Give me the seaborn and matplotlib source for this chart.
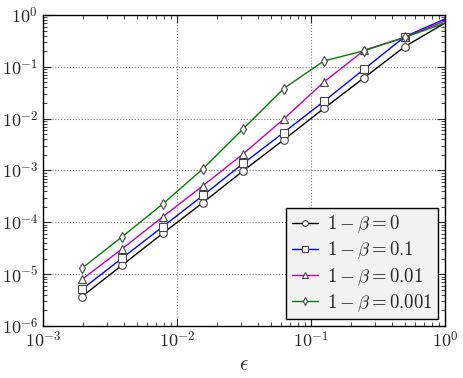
import numpy as np
import pandas as pd
import seaborn as sns
import matplotlib
matplotlib.use('Agg')
import matplotlib.pyplot as plt
from matplotlib.ticker import FuncFormatter

# step sizes eps = 2^-k
eps = [2**-9, 2**-8, 2**-7, 2**-6, 2**-5, 2**-4, 2**-3, 2**-2, 2**-1, 1.0]

err_b0 = [3.7e-6, 1.5e-5, 6.1e-5, 2.4e-4, 9.9e-4, 3.9e-3, 1.58e-2, 6.2e-2, 0.245, 0.70]
err_b01 = [5.1e-6, 2.05e-5, 8.2e-5, 3.3e-4, 1.37e-3, 5.4e-3, 2.16e-2, 9.1e-2, 0.38, 0.84]
err_b001 = [7.9e-6, 3.1e-5, 1.27e-4, 5.1e-4, 2.1e-3, 9.8e-3, 5.1e-2, 0.21, 0.37, 0.77]
err_b0001 = [1.3e-5, 5.3e-5, 2.25e-4, 1.08e-3, 6.4e-3, 3.8e-2, 0.13, 0.205, 0.37, 0.70]

labels = [r'$1-\beta=0$', r'$1-\beta=0.1$', r'$1-\beta=0.01$', r'$1-\beta=0.001$']
series = [err_b0, err_b01, err_b001, err_b0001]
colors = ['black', 'blue', (0.75, 0, 0.75), 'green']
markers = ['o', 's', '^', 'd']

sns.set_style('ticks')
plt.rcParams['mathtext.fontset'] = 'cm'
plt.rcParams['font.family'] = ['DejaVu Sans']
plt.rcParams['xtick.direction'] = 'in'
plt.rcParams['ytick.direction'] = 'in'
plt.rcParams['xtick.top'] = True
plt.rcParams['ytick.right'] = True

fig = plt.figure(figsize=(4.64, 3.78), dpi=100)
ax = fig.add_axes([0.0927, 0.1376, 0.8663, 0.8227])

for lab, ys, c, m in zip(labels, series, colors, markers):
    df = pd.DataFrame({'eps': eps, 'err': ys})
    sns.lineplot(data=df, x='eps', y='err', color=c, marker=m, label=lab, ax=ax,
                 linewidth=1, markersize=5.5, markerfacecolor='white',
                 markeredgecolor='#444444', markeredgewidth=0.8,
                 markevery=slice(0, len(eps) - 1))

ax.set_xscale('log')
ax.set_yscale('log')
ax.set_xlim(1e-3, 1)
ax.set_ylim(1e-6, 1)
pow10 = FuncFormatter(lambda v, p: r'$10^{%d}$' % int(round(np.log10(v))))
ax.xaxis.set_major_formatter(pow10)
ax.yaxis.set_major_formatter(pow10)
ax.set_xlabel(r'$\epsilon$', fontsize=15, labelpad=2)
ax.set_ylabel('')
ax.grid(True, which='major', linestyle=':', color='gray', linewidth=0.8)
ax.tick_params(which='major', length=6, width=0.8, labelsize=13, top=True, right=True)
ax.tick_params(which='minor', length=3, width=0.6, top=True, right=True)
for s in ax.spines.values():
    s.set_color('black')
    s.set_linewidth(1)

leg = ax.legend(loc='lower right', fontsize=13.5, fancybox=False, framealpha=1,
                edgecolor='black', handlelength=1.4, borderpad=0.3, markerscale=0.75,
                labelspacing=0.25, handletextpad=0.5, borderaxespad=0.35)
leg.get_frame().set_facecolor('#f2f2f2')
leg.get_frame().set_linewidth(1)

fig.savefig('out.png', dpi=100)
